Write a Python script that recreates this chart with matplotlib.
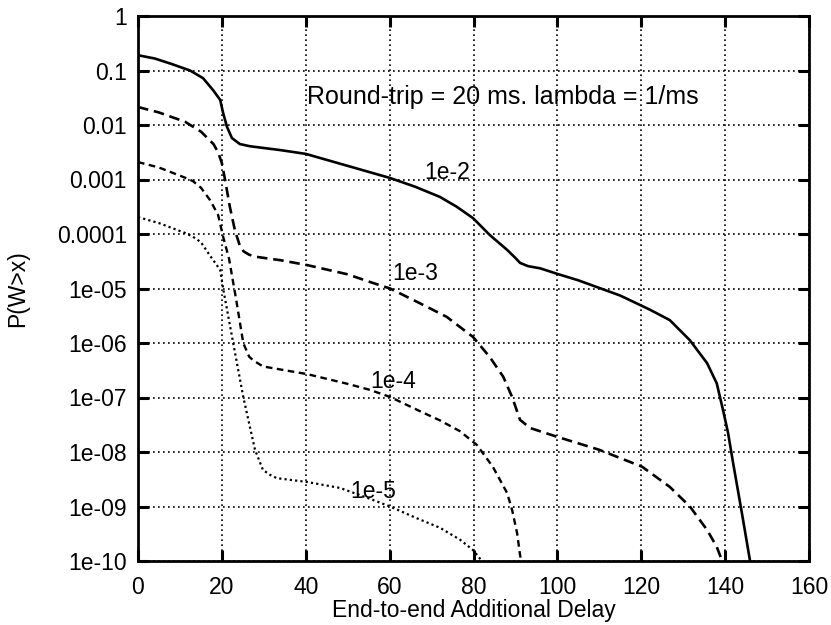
import numpy as np
import matplotlib
matplotlib.use("Agg")
import matplotlib.pyplot as plt
from matplotlib.ticker import FixedLocator, NullLocator, FixedFormatter

plt.rcParams['font.family'] = ['Liberation Sans', 'DejaVu Sans']

# ---- data; y values given as log10 P(W>x) ----
x_1e2 = [0, 4, 8, 12.4, 15.5, 17.9, 19.6, 20.3, 21.2, 22.4, 24.3, 26.7, 33.9, 40,
         50, 60, 66, 72, 76, 79.9, 83.9, 88, 90, 91.1, 93, 95.9, 99.9, 105, 110,
         115, 122.1, 126.8, 131.6, 135.7, 138, 139.5, 140.7, 141.9, 144, 145.9]
logp_1e2 = [-0.72, -0.78, -0.88, -1.0, -1.14, -1.36, -1.54, -1.78, -2.03, -2.24,
            -2.35, -2.39, -2.46, -2.53, -2.75, -2.97, -3.13, -3.32, -3.5, -3.71,
            -4.02, -4.29, -4.44, -4.53, -4.59, -4.63, -4.73, -4.85, -4.99, -5.13,
            -5.39, -5.58, -5.95, -6.37, -6.74, -7.23, -7.65, -8.2, -9.12, -9.98]

x_1e3 = [0, 5, 11.2, 15, 18, 19.1, 20, 20.7, 21.9, 23.1, 24.3, 25.2, 26.5, 28.3,
         33.9, 40.3, 50, 55.3, 60.1, 67.2, 73.6, 79.9, 83.9, 87.1, 89.2, 91.1,
         93.5, 99.9, 110, 120.2, 126.8, 131.6, 135.7, 138, 139.3]
logp_1e3 = [-1.67, -1.77, -1.94, -2.12, -2.35, -2.5, -2.7, -2.98, -3.5, -3.93,
            -4.22, -4.32, -4.38, -4.42, -4.48, -4.57, -4.74, -4.88, -5.0, -5.27,
            -5.52, -5.89, -6.26, -6.62, -6.99, -7.41, -7.56, -7.72, -7.96, -8.27,
            -8.64, -9.0, -9.43, -9.74, -10.0]

x_1e4 = [0, 5, 11, 13.1, 15, 17.2, 19.1, 20.3, 21.7, 23.4, 25.1, 26.5, 27.5, 29.8,
         35, 40.3, 50, 55.3, 60.1, 67.2, 72, 76.8, 80.8, 84.6, 88, 89.2, 90.4,
         91.1, 91.4]
logp_1e4 = [-2.68, -2.78, -2.96, -3.03, -3.15, -3.38, -3.65, -4.05, -4.45, -5.2,
            -6.0, -6.25, -6.32, -6.43, -6.5, -6.57, -6.75, -6.86, -6.99, -7.25,
            -7.42, -7.62, -7.87, -8.27, -8.75, -9.06, -9.49, -9.89, -10.0]

x_1e5 = [0, 5, 11.2, 13.1, 15, 17.2, 19.6, 20.3, 22.7, 25.1, 27.9, 29.8, 31.5,
         33.1, 40.3, 48.2, 55, 60.1, 66, 72, 76.8, 79.9, 82]
logp_1e5 = [-3.69, -3.8, -3.98, -4.05, -4.15, -4.4, -4.66, -5.0, -6.0, -6.99,
            -7.96, -8.33, -8.42, -8.48, -8.55, -8.66, -8.85, -9.0, -9.2, -9.39,
            -9.61, -9.8, -10.0]

curve_labels = ["1e-2", "1e-3", "1e-4", "1e-5"]
label_x = [73.7, 66.0, 60.8, 56.0]
label_logy = [-2.88, -4.72, -6.71, -8.73]

x_ticks = [0, 20, 40, 60, 80, 100, 120, 140, 160]
y_ticks = [1, 1e-1, 1e-2, 1e-3, 1e-4, 1e-5, 1e-6, 1e-7, 1e-8, 1e-9, 1e-10]
y_ticklabels = ["1", "0.1", "0.01", "0.001", "0.0001", "1e-05", "1e-06", "1e-07",
                "1e-08", "1e-09", "1e-10"]

annotation = "Round-trip = 20 ms. lambda = 1/ms"
x_label = "End-to-end Additional Delay"
y_label = "P(W>x)"

# ---- figure ----
fig = plt.figure(figsize=(8.31, 6.25), dpi=100)
ax = fig.add_axes([138/831, 64/625, 671/831, 545/625])

ax.set_yscale('log')
ax.set_xlim(0, 160)
ax.set_ylim(1e-10, 1)

ax.plot(x_1e2, np.power(10.0, logp_1e2), color='black', lw=1.9, ls='-')
ax.plot(x_1e3, np.power(10.0, logp_1e3), color='black', lw=1.9, ls=(0, (4, 2.2)))
ax.plot(x_1e4, np.power(10.0, logp_1e4), color='black', lw=1.7, ls=(0, (2.8, 1.9)))
ax.plot(x_1e5, np.power(10.0, logp_1e5), color='black', lw=1.6, ls=(0, (1, 1.4)))

ax.xaxis.set_major_locator(FixedLocator(x_ticks))
ax.yaxis.set_major_locator(FixedLocator(y_ticks))
ax.yaxis.set_minor_locator(NullLocator())
ax.yaxis.set_major_formatter(FixedFormatter(y_ticklabels))

ax.grid(True, which='major', color='black', ls=(0, (1, 2)), lw=1.2)

ax.tick_params(which='major', direction='in', length=8, width=2.2,
               top=True, right=True, labelsize=16.5, colors='black')
ax.tick_params(axis='y', pad=8)
ax.tick_params(axis='x', pad=11)
for s in ax.spines.values():
    s.set_linewidth(2.0)

for t, xx, ly in zip(curve_labels, label_x, label_logy):
    ax.text(xx, 10.0 ** ly, t, fontsize=16.5, ha='center', va='center')

ax.text(40.3, 10 ** -1.48, annotation, fontsize=18, ha='left', va='center')

ax.set_xlabel(x_label, fontsize=16.5, labelpad=0)
ax.set_ylabel(y_label, fontsize=16.5, labelpad=20)

fig.savefig("out.png", dpi=100)
